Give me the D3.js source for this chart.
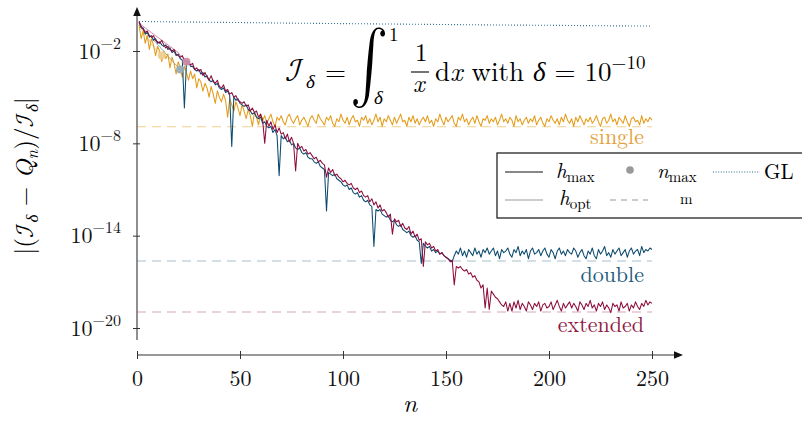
<!DOCTYPE html>
<html><head><meta charset="utf-8">
<script src="https://cdn.jsdelivr.net/npm/d3@7"></script>
<style>
body{margin:0;background:#fff;}
svg{display:block;}
</style></head><body>
<svg id="chart" width="802" height="422" font-family="Latin Modern Roman, CMU Serif, Liberation Serif, serif"></svg>
<script>
// ---- data (log10 of relative error), n = 1..250 ----
const nStart = 1;
const extendedLog = [
-0.1,-0.4,-0.6,-0.8,-0.7,-1.0,-1.1,-1.0,-1.3,-1.4,
-1.5,-1.3,-1.6,-1.8,-1.7,-1.9,-2.0,-1.9,-2.2,-2.3,
-2.4,-2.3,-2.6,-2.7,-2.7,-2.9,-2.8,-3.2,-3.1,-3.3,
-3.2,-3.6,-3.4,-3.7,-3.9,-3.6,-4.0,-4.1,-3.9,-4.3,
-4.4,-4.2,-4.6,-4.5,-4.8,-4.7,-5.0,-4.9,-5.2,-5.3,
-5.4,-5.3,-5.6,-5.5,-5.9,-5.7,-6.0,-5.9,-6.3,-6.1,
-6.5,-8.0,-6.5,-6.9,-6.6,-7.1,-6.8,-7.3,-7.0,-7.4,
-7.3,-7.7,-7.4,-7.9,-7.6,-8.0,-9.8,-8.0,-8.3,-8.2,
-8.5,-8.4,-8.7,-8.6,-8.8,-9.0,-8.9,-9.2,-9.1,-9.3,
-9.4,-10.2,-9.6,-9.9,-9.7,-10.1,-10.0,-10.2,-10.3,-10.5,
-10.4,-10.6,-10.7,-10.6,-10.9,-11.0,-10.9,-11.2,-11.1,-11.4,
-11.5,-11.4,-11.8,-11.6,-12.0,-11.8,-12.2,-12.0,-12.4,-12.3,
-12.5,-12.8,-12.6,-13.9,-12.9,-13.1,-13.0,-13.4,-13.2,-13.5,
-13.6,-13.4,-13.9,-13.7,-14.1,-13.9,-14.3,-14.2,-16.0,-14.4,
-14.6,-14.5,-14.8,-14.7,-15.0,-14.9,-15.2,-15.1,-15.3,-15.4,
-15.5,-15.7,-15.6,-17.2,-16.0,-16.1,-16.0,-16.2,-16.3,-16.2,
-16.5,-16.4,-16.7,-16.6,-16.9,-17.0,-17.4,-17.2,-18.7,-17.4,
-18.8,-17.6,-17.8,-18.0,-18.1,-18.3,-18.5,-18.6,-18.3,-18.9,
-18.4,-18.9,-18.3,-18.7,-18.2,-18.8,-18.4,-18.6,-18.9,-18.3,
-18.5,-18.8,-18.4,-18.6,-18.3,-18.9,-18.5,-18.4,-18.7,-18.6,
-18.3,-18.8,-18.5,-18.2,-18.6,-18.9,-18.4,-18.7,-18.5,-18.3,
-18.7,-18.4,-18.6,-18.9,-18.3,-18.5,-18.8,-18.4,-18.6,-18.2,
-18.7,-18.5,-18.9,-18.4,-18.6,-18.3,-18.8,-18.5,-18.7,-19.0,
-18.4,-18.6,-18.5,-18.9,-18.3,-18.7,-18.6,-18.4,-18.9,-18.5,
-18.7,-18.3,-18.6,-18.8,-18.4,-18.6,-18.2,-18.5,-18.3,-18.4];
const doubleLog = [
-0.1,-0.5,-0.5,-0.9,-0.8,-1.1,-1.0,-1.3,-1.2,-1.5,
-1.4,-1.6,-1.7,-1.6,-1.9,-1.8,-2.1,-2.0,-2.3,-2.2,
-2.5,-2.6,-5.7,-2.8,-2.7,-3.0,-3.0,-3.2,-3.3,-3.2,
-3.5,-3.4,-3.7,-3.6,-3.9,-4.0,-3.9,-4.2,-4.1,-4.4,
-4.5,-4.4,-4.7,-4.6,-4.9,-8.2,-5.0,-5.2,-5.1,-5.4,
-5.5,-5.6,-5.5,-5.8,-5.9,-6.1,-6.0,-6.3,-6.4,-6.3,
-6.7,-6.6,-6.9,-7.0,-6.9,-7.3,-7.1,-7.5,-10.1,-7.5,
-7.7,-7.6,-7.9,-7.8,-8.1,-8.0,-8.3,-8.4,-8.3,-8.6,
-8.7,-8.6,-8.9,-9.0,-9.0,-9.2,-9.3,-9.2,-9.5,-9.6,
-9.7,-12.4,-9.9,-10.0,-10.1,-10.0,-10.3,-10.4,-10.5,-10.7,
-10.8,-10.7,-11.0,-10.9,-11.2,-11.3,-11.2,-11.5,-11.4,-11.7,
-11.8,-11.7,-12.0,-12.1,-14.7,-12.3,-12.4,-12.3,-12.6,-12.7,
-12.8,-12.7,-13.0,-13.1,-13.0,-13.3,-13.4,-13.3,-13.6,-13.7,
-13.8,-13.7,-14.0,-14.1,-14.0,-14.3,-14.4,-15.8,-14.5,-14.7,
-14.8,-14.7,-15.0,-14.9,-15.1,-15.0,-15.2,-15.1,-15.3,-15.4,
-15.5,-15.6,-15.7,-15.3,-15.0,-15.2,-14.8,-15.3,-15.0,-15.4,
-14.9,-15.1,-15.3,-14.8,-15.2,-15.0,-15.4,-14.9,-15.1,-14.8,
-15.2,-15.0,-14.8,-15.3,-15.0,-15.5,-14.9,-15.1,-15.0,-14.8,
-15.2,-15.4,-14.9,-15.1,-14.7,-15.3,-15.0,-15.2,-14.9,-15.5,
-15.0,-14.8,-15.2,-15.1,-14.9,-15.3,-15.0,-14.8,-15.2,-15.4,
-14.9,-15.1,-15.5,-15.0,-14.8,-15.2,-15.0,-15.3,-14.9,-15.1,
-15.2,-14.8,-15.0,-15.4,-15.1,-14.9,-15.3,-15.5,-15.0,-15.2,
-14.8,-15.3,-15.5,-14.9,-15.2,-15.0,-14.7,-15.3,-15.1,-15.4,
-14.9,-15.2,-15.0,-14.8,-15.3,-15.1,-14.9,-15.4,-15.0,-14.8,
-15.2,-15.0,-14.9,-15.3,-14.7,-15.1,-14.9,-15.0,-14.8,-14.9];
const singleLog = [
-0.3,-1.2,-0.7,-1.5,-1.0,-1.9,-1.2,-1.6,-2.3,-1.7,
-2.0,-2.7,-2.0,-2.5,-2.2,-3.1,-2.4,-2.8,-3.5,-2.7,
-3.1,-3.7,-3.0,-3.4,-3.9,-3.3,-3.8,-3.5,-4.4,-3.8,
-4.0,-4.6,-4.1,-4.4,-5.0,-4.3,-4.8,-5.4,-4.6,-5.0,
-5.3,-4.8,-5.2,-6.3,-5.1,-5.5,-5.9,-5.3,-5.7,-6.2,
-5.5,-5.9,-6.4,-5.8,-6.2,-6.9,-6.0,-6.3,-6.8,-6.1,
-6.5,-6.2,-6.7,-6.4,-6.1,-6.6,-6.9,-6.3,-6.5,-6.2,
-6.6,-6.8,-6.3,-6.1,-6.5,-6.7,-6.4,-6.2,-6.8,-6.5,
-6.3,-6.6,-6.9,-6.4,-6.2,-6.5,-6.7,-6.1,-6.4,-6.6,
-6.8,-6.3,-6.5,-6.2,-6.7,-6.9,-6.4,-6.6,-6.1,-6.5,
-6.7,-6.3,-6.8,-6.4,-6.2,-6.6,-6.5,-6.9,-6.3,-6.5,
-6.2,-6.7,-6.4,-6.8,-6.5,-6.1,-6.6,-6.3,-6.9,-6.4,
-6.6,-6.2,-6.5,-6.8,-6.3,-6.7,-6.4,-6.1,-6.6,-6.5,
-6.9,-6.3,-6.6,-6.2,-6.7,-6.4,-6.8,-6.5,-6.3,-6.6,
-6.2,-6.7,-6.5,-6.9,-6.4,-6.6,-6.1,-6.5,-6.8,-6.3,
-6.6,-6.4,-6.2,-6.7,-6.9,-6.3,-6.5,-6.1,-6.6,-6.4,
-6.8,-6.5,-6.3,-6.7,-6.2,-6.6,-6.9,-6.4,-6.5,-6.2,
-6.7,-6.4,-6.6,-6.3,-6.8,-6.5,-6.1,-6.6,-6.4,-6.7,
-6.3,-6.5,-6.9,-6.2,-6.6,-6.4,-6.8,-6.5,-6.3,-6.7,
-6.4,-6.6,-6.2,-6.8,-6.5,-6.3,-6.7,-6.9,-6.4,-6.6,
-6.2,-6.5,-6.7,-6.4,-6.8,-6.3,-6.6,-6.1,-6.5,-6.7,
-6.4,-6.9,-6.3,-6.6,-6.2,-6.5,-6.8,-6.4,-6.6,-6.3,
-6.7,-6.5,-6.2,-6.6,-6.9,-6.4,-6.3,-6.7,-6.5,-6.1,
-6.6,-6.4,-6.8,-6.3,-6.5,-6.7,-6.2,-6.6,-6.9,-6.4,
-6.3,-6.6,-6.5,-6.8,-6.2,-6.7,-6.4,-6.6,-6.3,-6.5];
// h_opt curves (up to n_max)
const singleOptLog   = [-0.2,-0.5,-0.8,-0.9,-1.2,-1.3,-1.6,-1.7,-1.9,-2.0,-2.2,-2.3];
const doubleOptLog   = [-0.2,-0.4,-0.5,-0.7,-0.8,-1.0,-1.1,-1.3,-1.4,-1.6,-1.7,-1.9,-2.0,-2.2,-2.3,-2.5,-2.6,-2.8,-2.9,-3.1,-3.2];
const extendedOptLog = [-0.1,-0.3,-0.4,-0.5,-0.6,-0.7,-0.8,-0.9,-1.0,-1.1,-1.2,-1.3,-1.4,-1.5,-1.6,-1.7,-1.8,-1.9,-2.0,-2.1,-2.3,-2.4,-2.6,-2.7];
// n_max markers
const nMaxN   = [12, 21, 24];
const nMaxLog = [-2.3, -3.2, -2.7];
// Gauss-Legendre
const glN   = [1, 25, 50, 75, 100, 125, 150, 175, 200, 225, 250];
const glLog = [-0.08, -0.12, -0.15, -0.19, -0.22, -0.25, -0.28, -0.31, -0.33, -0.36, -0.38];
// machine epsilons: single, double, extended
const epsLog = [-6.92, -15.65, -18.96];
const epsNames = ["single", "double", "extended"];
const xTicks = [0, 50, 100, 150, 200, 250];
const yTickExp = [-2, -8, -14, -20];

// ---- styles ----
const FONT = "Latin Modern Roman, CMU Serif, Liberation Serif, serif";
const CAL = "Latin Modern Math, STIX Two Math, Latin Modern Roman, DejaVu Serif, serif";
const colMain = ["#e39c1a", "#0b4a6d", "#8e0d3c"];
const colLight = ["#f0cf95", "#93adbd", "#c98aa3"];
const colEps = ["#f2cf8c", "#a9bfcb", "#d7a7b9"];
const colLabel = ["#e3a23a", "#1e5b7c", "#8e1a45"];

const svg = d3.select("#chart");
const x = d3.scaleLinear().domain([0, 250]).range([137, 652]);
const y = d3.scaleLog().domain([1e-20, 1e-2]).range([328, 51]);
const P = e => Math.pow(10, e);

// eps lines
const epsG = svg.append("g");
epsLog.forEach((e, i) => {
  epsG.append("line").attr("x1", x(0)).attr("x2", x(250))
    .attr("y1", y(P(e))).attr("y2", y(P(e)))
    .attr("stroke", colEps[i]).attr("stroke-width", 1.1).attr("stroke-dasharray", "9,6");
});

// GL dotted
const line = d3.line().x(d => x(d[0])).y(d => y(P(d[1])));
svg.append("path").datum(glN.map((n, i) => [n, glLog[i]]))
  .attr("d", line).attr("fill", "none").attr("stroke", "#2d6e94")
  .attr("stroke-width", 1.1).attr("stroke-dasharray", "1,2");

// h_opt light curves
[singleOptLog, doubleOptLog, extendedOptLog].forEach((arr, i) => {
  svg.append("path").datum(arr.map((v, k) => [nStart + k, v]))
    .attr("d", line).attr("fill", "none").attr("stroke", colLight[i]).attr("stroke-width", 1);
});

// main curves
[singleLog, doubleLog, extendedLog].forEach((arr, i) => {
  svg.append("path").datum(arr.map((v, k) => [nStart + k, v]))
    .attr("d", line).attr("fill", "none").attr("stroke", colMain[i])
    .attr("stroke-width", 1.05).attr("stroke-linejoin", "round");
});

// n_max markers
nMaxN.forEach((n, i) => {
  svg.append("circle").attr("cx", x(n)).attr("cy", y(P(nMaxLog[i]))).attr("r", 4)
    .attr("fill", colLight[i]).attr("opacity", 0.95);
});

// eps labels
const labelY = [144, 282, 332];
epsNames.forEach((t, i) => {
  svg.append("text").attr("x", 644).attr("y", labelY[i]).attr("text-anchor", "end")
    .attr("font-family", FONT).attr("font-size", 22).attr("fill", colLabel[i]).text(t);
});

// ---- axes ----
const axCol = "#333";
const yAxisG = svg.append("g").attr("transform", "translate(137,0)");
yAxisG.call(d3.axisLeft(y).tickValues(yTickExp.map(P)).tickSize(4).tickSizeOuter(0)
  .tickFormat(() => ""));
yAxisG.select(".domain").remove();
yAxisG.selectAll(".tick line").attr("stroke", axCol).attr("x2", -4).attr("x1", 3);
yAxisG.selectAll(".tick text").each(function(d) {
  const t = d3.select(this);
  const e = Math.round(Math.log10(d));
  t.attr("font-size", 22).attr("font-family", FONT).attr("fill", "#111")
   .attr("dy", "0.33em").attr("x", -16).attr("text-anchor", "end");
  t.append("tspan").text("10");
  t.append("tspan").attr("dy", -10).attr("font-size", 16).text("\u2212" + Math.abs(e));
});
svg.append("line").attr("x1", 137).attr("x2", 137).attr("y1", 340).attr("y2", 14)
  .attr("stroke", axCol).attr("stroke-width", 1.1);
svg.append("path").attr("d", "M137,7 L133.2,16 L140.8,16 Z").attr("fill", "#111");

const xAxisG = svg.append("g").attr("transform", "translate(0,355)");
xAxisG.call(d3.axisBottom(x).tickValues(xTicks).tickSize(4).tickSizeOuter(0).tickPadding(11));
xAxisG.select(".domain").remove();
xAxisG.selectAll(".tick line").attr("stroke", axCol).attr("y1", -4).attr("y2", 4);
xAxisG.selectAll(".tick text").attr("font-size", 22).attr("fill", "#111").attr("font-family", FONT);
svg.append("line").attr("x1", 137).attr("x2", 674).attr("y1", 355).attr("y2", 355)
  .attr("stroke", axCol).attr("stroke-width", 1.1);
svg.append("path").attr("d", "M683,355 L674,351.2 L674,358.8 Z").attr("fill", "#111");

// axis labels
svg.append("text").attr("x", 410).attr("y", 412).attr("text-anchor", "middle")
  .attr("font-family", FONT).attr("font-size", 25).attr("font-style", "italic").text("n");
const yl = svg.append("text").attr("transform", "translate(33,176) rotate(-90)")
  .attr("text-anchor", "middle").attr("font-family", FONT).attr("font-size", 25);
yl.append("tspan").text("|(");
yl.append("tspan").attr("font-family", CAL).text("\u2110");
yl.append("tspan").attr("font-size", 17).attr("dy", 5).attr("font-style", "italic").text("\u03b4");
yl.append("tspan").attr("dy", -5).text(" \u2212 ");
yl.append("tspan").attr("font-style", "italic").text("Q");
yl.append("tspan").attr("font-size", 17).attr("dy", 5).attr("font-style", "italic").text("n");
yl.append("tspan").attr("dy", -5).text(")/");
yl.append("tspan").attr("font-family", CAL).text("\u2110");
yl.append("tspan").attr("font-size", 17).attr("dy", 5).attr("font-style", "italic").text("\u03b4");
yl.append("tspan").attr("dy", -5).text("|");

// ---- title formula ----
const tg = svg.append("g").attr("font-family", FONT);
const T = (xx, yy, s, str, it) => tg.append("text").attr("x", xx).attr("y", yy)
  .attr("font-size", s).attr("font-style", it ? "italic" : "normal").text(str);
T(285, 81, 32, "\u2110", false).attr("font-family", CAL);
T(306, 88, 19, "\u03b4", true);
T(325, 81, 27, "=", false);
tg.append("text").attr("transform", "translate(350,86) scale(1.15,1.45)")
  .attr("font-family", CAL).attr("font-size", 50).text("\u222b");
T(389, 41, 19, "1", false);
T(374, 104, 19, "\u03b4", true);
T(415, 61, 25, "1", false);
tg.append("line").attr("x1", 411).attr("x2", 429).attr("y1", 72).attr("y2", 72).attr("stroke", "#000").attr("stroke-width", 1.1);
T(413, 92, 25, "x", true);
const main = tg.append("text").attr("x", 435).attr("y", 81).attr("font-size", 27);
main.append("tspan").text("d");
main.append("tspan").attr("font-style", "italic").text("x");
main.append("tspan").text(" with ");
main.append("tspan").attr("font-style", "italic").text("\u03b4");
main.append("tspan").text(" = 10");
main.append("tspan").attr("dy", -12).attr("font-size", 19).text("\u221210");

// ---- legend ----
const lg = svg.append("g").attr("font-family", FONT);
lg.append("rect").attr("x", 497).attr("y", 153).attr("width", 330).attr("height", 65)
  .attr("fill", "#fff").attr("stroke", "#111").attr("stroke-width", 1.2);
lg.append("line").attr("x1", 505).attr("x2", 543).attr("y1", 172).attr("y2", 172).attr("stroke", "#111").attr("stroke-width", 1);
lg.append("line").attr("x1", 505).attr("x2", 543).attr("y1", 200).attr("y2", 200).attr("stroke", "#999").attr("stroke-width", 1);
lg.append("circle").attr("cx", 630).attr("cy", 170).attr("r", 3.8).attr("fill", "#999");
lg.append("line").attr("x1", 713).attr("x2", 760).attr("y1", 172).attr("y2", 172).attr("stroke", "#2d6e94").attr("stroke-width", 1).attr("stroke-dasharray", "1,1.6");
lg.append("line").attr("x1", 610).attr("x2", 648).attr("y1", 200).attr("y2", 200).attr("stroke", "#999").attr("stroke-width", 1).attr("stroke-dasharray", "6,5");
const LT = (xx, yy, main, sub, it) => {
  const t = lg.append("text").attr("x", xx).attr("y", yy).attr("font-size", 21);
  t.append("tspan").attr("font-style", it ? "italic" : "normal").text(main);
  if (sub) t.append("tspan").attr("font-size", 15).attr("dy", 4).text(sub);
};
LT(556, 178, "h", "max", true);
LT(657, 178, "n", "max", true);
LT(764, 179, "GL", null, false);
LT(559, 205, "h", "opt", true);
lg.append("text").attr("x", 680).attr("y", 204).attr("font-size", 15).text("m");
</script>
</body></html>
